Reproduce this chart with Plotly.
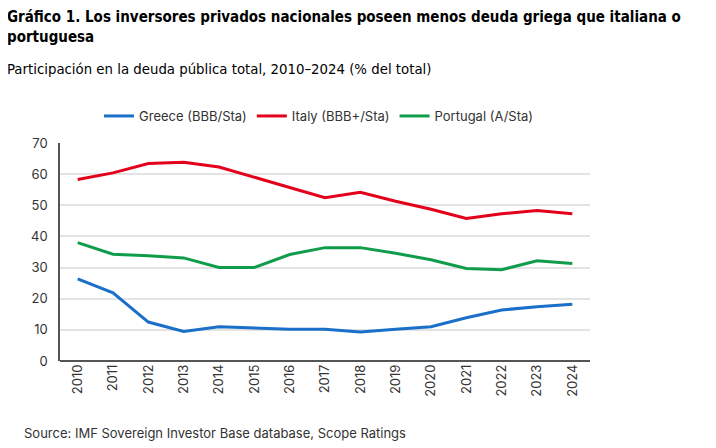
import plotly.graph_objects as go

years = [str(y) for y in range(2010, 2025)]
greece = [26.4, 21.9, 12.5, 9.5, 11.0, 10.6, 10.2, 10.2, 9.3, 10.2, 11.0, 13.9, 16.4, 17.4, 18.2]
italy = [58.3, 60.4, 63.4, 63.8, 62.3, 58.9, 55.7, 52.4, 54.2, 51.3, 48.7, 45.8, 47.3, 48.3, 47.3]
portugal = [38.0, 34.3, 33.8, 33.1, 30.0, 30.0, 34.2, 36.4, 36.4, 34.6, 32.5, 29.7, 29.3, 32.2, 31.3]

names = ["Greece (BBB/Sta)", "Italy (BBB+/Sta)", "Portugal (A/Sta)"]
colors = ["#1a6fc9", "#e3001b", "#0f9d4b"]
yticks = [0, 10, 20, 30, 40, 50, 60, 70]

title_text = "<b>Gráfico 1. Los inversores privados nacionales poseen menos deuda griega que italiana o<br>portuguesa</b>"
subtitle_text = "Participación en la deuda pública total, 2010–2024 (% del total)"
source_text = "Source: IMF Sovereign Investor Base database, Scope Ratings"

fig = go.Figure()
for name, vals, col in zip(names, [greece, italy, portugal], colors):
    fig.add_trace(go.Scatter(x=years, y=vals, name=name, mode="lines",
                             line=dict(color=col, width=3)))

OFF = 8  # page body margin
W, H = 716, 448
L, R, T, B = 60, 126, 143, 87
pw, ph = W - L - R, H - T - B

def px(x):
    return (x - L) / pw

def py(y):
    return (H - B - y) / ph

title_font = "Liberation Sans Narrow, DejaVu Sans Condensed, Roboto Condensed, Arial Narrow, sans-serif"

fig.update_layout(
    width=W - OFF, height=H - OFF,
    margin=dict(l=L - OFF, r=R, t=T - OFF, b=B),
    paper_bgcolor="white", plot_bgcolor="white",
    font=dict(family="Inter, Roboto, sans-serif", size=13, color="#333333"),
    showlegend=True,
    legend=dict(orientation="h", x=px(99), y=py(101), xanchor="left", yanchor="top",
                font=dict(size=13, color="#333333"), bgcolor="rgba(0,0,0,0)",
                traceorder="normal"),
    xaxis=dict(type="category", tickangle=-90, showgrid=False, showline=False,
               ticks="", tickfont=dict(size=13, color="#333333"),
               range=[-0.5, 14.5]),
    yaxis=dict(range=[0, 70], tickvals=yticks, showgrid=True, gridcolor="#e3e3e3",
               gridwidth=1.5, showline=True, linecolor="#555555", linewidth=1.5,
               zeroline=True, zerolinecolor="#555555", zerolinewidth=1.5,
               ticks="", tickfont=dict(size=13, color="#333333"), ticklabelstandoff=8),
    annotations=[
        dict(text=title_text, xref="paper", yref="paper", x=px(5), y=py(6),
             xanchor="left", yanchor="top", align="left", showarrow=False,
             font=dict(family=title_font, size=15, color="#000000")),
        dict(text=subtitle_text, xref="paper", yref="paper", x=px(5), y=py(58),
             xanchor="left", yanchor="top", align="left", showarrow=False,
             font=dict(family=title_font, size=14.8, color="#000000")),
        dict(text=source_text, xref="paper", yref="paper", x=px(22), y=py(423),
             xanchor="left", yanchor="top", align="left", showarrow=False,
             font=dict(family="Inter, Roboto, sans-serif", size=13, color="#333333")),
    ],
)

fig.write_html("out.html")
